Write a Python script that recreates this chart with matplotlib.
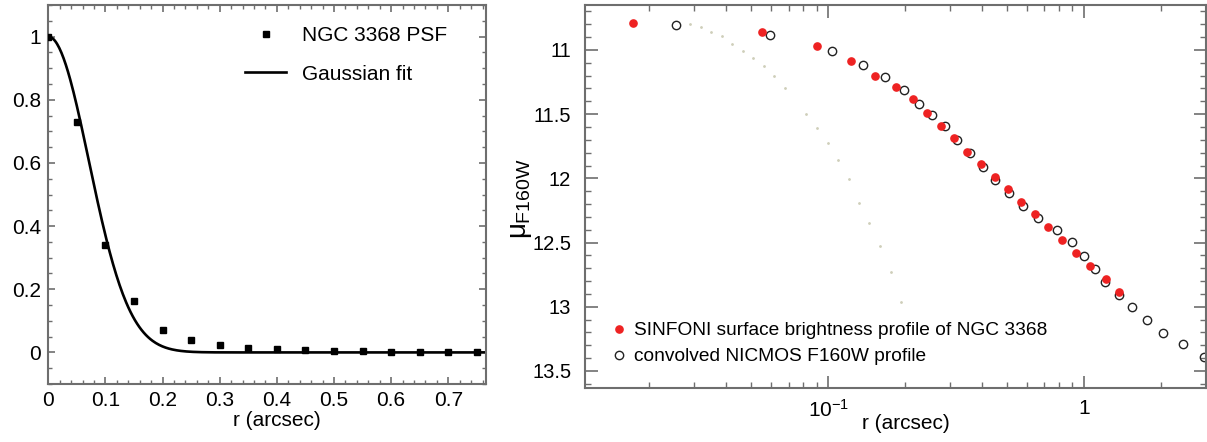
import numpy as np
import matplotlib
matplotlib.use('Agg')
import matplotlib.pyplot as plt
from matplotlib.ticker import MultipleLocator, FixedLocator, FixedFormatter, LogLocator, NullFormatter

plt.rcParams['font.family'] = ['Liberation Sans', 'DejaVu Sans']
plt.rcParams['mathtext.fontset'] = 'custom'
plt.rcParams['mathtext.rm'] = 'Liberation Sans'
plt.rcParams['mathtext.it'] = 'Liberation Sans'

# left panel: PSF profile
psf_r = [0.0, 0.05, 0.10, 0.15, 0.20, 0.25, 0.30, 0.35, 0.40, 0.45, 0.50, 0.55, 0.60, 0.65, 0.70, 0.75]
psf_val = [1.0, 0.73, 0.34, 0.163, 0.072, 0.039, 0.023, 0.015, 0.010, 0.007, 0.005, 0.003, 0.002, 0.001, 0.001, 0.0]
gauss_sigma = 0.071

# right panel: surface brightness profiles
sinfoni_r = [0.01725, 0.0552, 0.0906, 0.1223, 0.1527, 0.1834, 0.2136, 0.2444, 0.2755, 0.3106, 0.349,
             0.395, 0.448, 0.5066, 0.5694, 0.642, 0.7216, 0.8207, 0.934, 1.055, 1.216, 1.375]
sinfoni_mu = [10.787, 10.860, 10.971, 11.088, 11.203, 11.288, 11.380, 11.489, 11.590, 11.688, 11.795,
              11.891, 11.990, 12.086, 12.182, 12.281, 12.382, 12.483, 12.582, 12.686, 12.785, 12.884]

nicmos_r = [0.02535, 0.05934, 0.1036, 0.1366, 0.1665, 0.1979, 0.2257, 0.2548, 0.2861, 0.3197, 0.3599,
            0.4021, 0.4506, 0.5111, 0.5778, 0.6636, 0.7822, 0.9010, 1.0, 1.103, 1.213, 1.370, 1.539,
            1.769, 2.039, 2.434, 2.941]
nicmos_mu = [10.803, 10.885, 11.005, 11.119, 11.213, 11.312, 11.419, 11.507, 11.595, 11.698, 11.803,
             11.910, 12.013, 12.117, 12.216, 12.307, 12.401, 12.499, 12.606, 12.705, 12.809, 12.906, 13.003,
             13.104, 13.202, 13.293, 13.394]

faint_r = [0.02884, 0.03174, 0.03481, 0.03835, 0.04217, 0.04629, 0.05093, 0.05608, 0.06151, 0.06792,
           0.08160, 0.09010, 0.09973, 0.1088, 0.1202, 0.1322, 0.1446, 0.1596, 0.1752, 0.1923]
faint_mu = [10.800, 10.823, 10.857, 10.893, 10.951, 11.008, 11.062, 11.125, 11.203, 11.299,
            11.501, 11.608, 11.723, 11.860, 12.008, 12.190, 12.351, 12.525, 12.728, 12.964]

spine_col = '#6e6e6e'

fig = plt.figure(figsize=(12.07, 4.42), dpi=100)
ax1 = fig.add_axes([0.040, 0.1312, 0.3626, 0.8575])
ax2 = fig.add_axes([0.4847, 0.1229, 0.5145, 0.8658])

# ---- left panel
rr = np.linspace(0, 0.766, 400)
ax1.plot(psf_r, psf_val, 's', color='black', ms=5, label='NGC 3368 PSF', zorder=3)
ax1.plot(rr, np.exp(-rr**2 / (2 * gauss_sigma**2)), '-', color='black', lw=1.9, label='Gaussian fit')
ax1.set_xlim(0, 0.766)
ax1.set_ylim(-0.1, 1.1)
ax1.xaxis.set_major_locator(MultipleLocator(0.1))
ax1.xaxis.set_minor_locator(MultipleLocator(0.02))
ax1.yaxis.set_major_locator(MultipleLocator(0.2))
ax1.yaxis.set_minor_locator(MultipleLocator(0.05))
fmt = plt.FuncFormatter(lambda v, p: '0' if abs(v) < 1e-9 else ('%g' % round(v, 2)))
ax1.xaxis.set_major_formatter(fmt)
ax1.yaxis.set_major_formatter(fmt)
ax1.tick_params(which='both', direction='in', top=True, right=True, color=spine_col, labelsize=15)
ax1.tick_params(which='major', length=5, width=1.2, pad=5)
ax1.tick_params(which='minor', length=3, width=1.0)
ax1.set_xlabel('r (arcsec)', fontsize=15)
ax1.xaxis.set_label_coords(0.522, -0.07)
ax1.legend(loc='upper left', frameon=False, fontsize=15, handlelength=2.0,
           handletextpad=0.75, labelspacing=0.95, borderpad=0, borderaxespad=0,
           bbox_to_anchor=(0.449, 0.945))

# ---- right panel
ax2.plot(faint_r, faint_mu, '.', color='#cfcfba', ms=2, zorder=1)
ax2.plot(sinfoni_r, sinfoni_mu, 'o', color='#ee2222', mec='#ee2222', ms=5.2, zorder=3,
         label='SINFONI surface brightness profile of NGC 3368')
ax2.plot(nicmos_r, nicmos_mu, 'o', mfc='none', mec='#222222', mew=1.0, ms=6, zorder=2,
         label='convolved NICMOS F160W profile')
ax2.set_xscale('log')
ax2.set_xlim(0.0112, 3.0)
ax2.set_ylim(13.63, 10.65)
ax2.xaxis.set_major_locator(FixedLocator([0.1, 1.0]))
ax2.xaxis.set_major_formatter(FixedFormatter([r'$10^{-1}$', '1']))
ax2.xaxis.set_minor_locator(LogLocator(base=10, subs=np.arange(2, 10)))
ax2.xaxis.set_minor_formatter(NullFormatter())
ax2.yaxis.set_major_locator(MultipleLocator(0.5))
ax2.yaxis.set_minor_locator(MultipleLocator(0.1))
ax2.yaxis.set_major_formatter(plt.FuncFormatter(lambda v, p: '%g' % v))
ax2.tick_params(which='both', direction='in', top=True, right=True, color=spine_col, labelsize=15)
ax2.tick_params(axis='y', which='major', length=9, width=1.2, pad=10, labelsize=14.5)
ax2.tick_params(axis='x', which='major', length=9, width=1.2, pad=8)
ax2.tick_params(which='minor', length=4.5, width=1.0)
ax2.set_xlabel('r (arcsec)', fontsize=15)
ax2.xaxis.set_label_coords(0.517, -0.07)
ax2.set_ylabel(r'$\mu_{\rm F160W}$', fontsize=20)
ax2.yaxis.set_label_coords(-0.082, 0.495)
ax2.legend(loc='upper left', frameon=False, fontsize=13.8, handlelength=0.8,
           handletextpad=0.4, labelspacing=0.45, borderpad=0, borderaxespad=0,
           bbox_to_anchor=(0.042, 0.172))

for ax in (ax1, ax2):
    for s in ax.spines.values():
        s.set_color(spine_col)
        s.set_linewidth(1.5)

fig.savefig('out.png', dpi=100)
